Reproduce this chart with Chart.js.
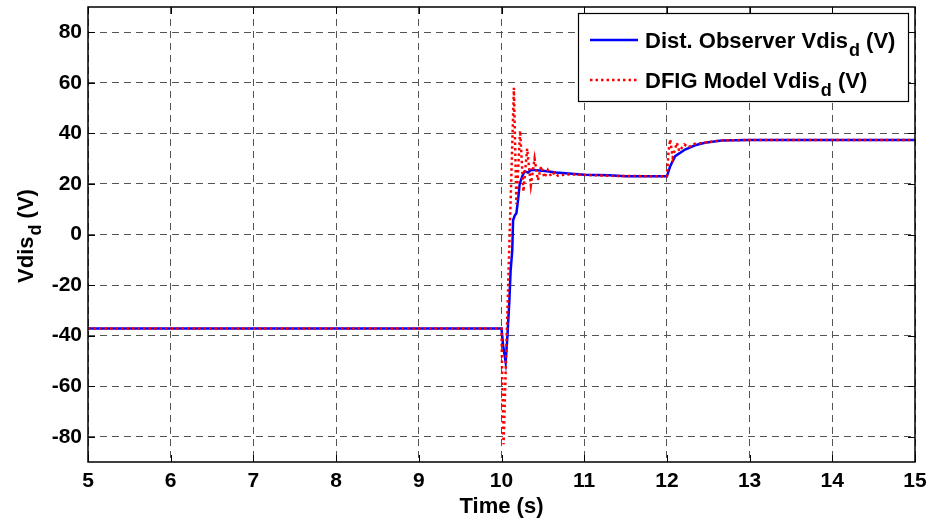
<!DOCTYPE html>
<html>
<head>
<meta charset="utf-8">
<script src="https://cdn.jsdelivr.net/npm/chart.js@4.4.0/dist/chart.umd.min.js"></script>
<style>
  html, body { margin: 0; padding: 0; background: #fff; }
  #wrap { width: 932px; height: 523px; position: relative; }
</style>
</head>
<body>
<div id="wrap"><canvas id="chart" width="932" height="523"></canvas></div>
<script>
// time axis (s) and values (V)
const xTicks = [5, 6, 7, 8, 9, 10, 11, 12, 13, 14, 15];
const yTicks = [-80, -60, -40, -20, 0, 20, 40, 60, 80];

const observerTime = [5, 10.0, 10.02, 10.05, 10.07, 10.095, 10.11, 10.13, 10.14, 10.16, 10.18, 10.2, 10.22, 10.25, 10.28, 10.32, 10.36, 10.5, 10.66, 11.0, 11.3, 11.5, 12.0, 12.04, 12.1, 12.22, 12.34, 12.46, 12.66, 13.0, 14.0, 15];
const observerVdis = [-37.2, -37.2, -44, -50.4, -41, -26.4, -14.4, -6.4, 5.6, 7.5, 8.4, 13.6, 20, 23, 25, 24.5, 25.6, 25.2, 24.5, 23.6, 23.4, 23, 23, 27, 31, 33.6, 35.3, 36.3, 37.2, 37.4, 37.4, 37.4];

const modelTime = [5, 10.0, 10.01, 10.025, 10.15, 10.18, 10.225, 10.265, 10.31, 10.355, 10.4, 10.44, 10.48, 10.52, 10.56, 10.6, 10.64, 10.68, 10.8, 11.0, 11.3, 12.0, 12.02, 12.04, 12.07, 12.12, 12.15, 12.21, 12.26, 12.33, 12.45, 12.65, 13.0, 15];
const modelVdis = [-37.2, -37.2, -60, -83, 58, 12, 41, 17, 34, 19.5, 30, 21.5, 27, 22.5, 25.5, 23, 24.5, 23.3, 23.8, 23.6, 23.2, 23, 33, 37.6, 30.5, 36.3, 33, 35.6, 34.5, 35.8, 36.3, 37.2, 37.4, 37.4];

const legendLabels = ['Dist. Observer Vdis', 'DFIG Model Vdis'];
const FONT = '"Liberation Sans", Arial, sans-serif';

function toPoints(xs, ys) {
  return xs.map((x, i) => ({ x: x, y: ys[i] }));
}

// text with a subscript "d" followed by " (V)"
function drawSubText(ctx, base, x, y, size) {
  ctx.font = 'bold ' + size + 'px ' + FONT;
  ctx.fillText(base, x, y);
  let w = ctx.measureText(base).width;
  ctx.font = 'bold ' + Math.round(size * 0.8) + 'px ' + FONT;
  ctx.fillText('d', x + w + 1, y + size * 0.38);
  w += ctx.measureText('d').width + 1;
  ctx.font = 'bold ' + size + 'px ' + FONT;
  ctx.fillText(' (V)', x + w, y);
  return w + ctx.measureText(' (V)').width;
}

function subTextWidth(ctx, base, size) {
  ctx.font = 'bold ' + size + 'px ' + FONT;
  let w = ctx.measureText(base).width + ctx.measureText(' (V)').width;
  ctx.font = 'bold ' + Math.round(size * 0.8) + 'px ' + FONT;
  return w + ctx.measureText('d').width + 1;
}

const framePlugin = {
  id: 'frame',
  afterDraw(chart) {
    const ctx = chart.ctx;
    const a = chart.chartArea;
    const xs = chart.scales.x, ys = chart.scales.y;
    ctx.save();
    ctx.strokeStyle = '#000';
    ctx.lineWidth = 1.5;
    ctx.strokeRect(a.left, a.top, a.right - a.left, a.bottom - a.top);
    // inner tick marks
    ctx.lineWidth = 1;
    ctx.beginPath();
    xTicks.forEach(v => {
      const px = Math.round(xs.getPixelForValue(v)) + 0.5;
      ctx.moveTo(px, a.bottom); ctx.lineTo(px, a.bottom - 7);
      ctx.moveTo(px, a.top); ctx.lineTo(px, a.top + 7);
    });
    yTicks.forEach(v => {
      const py = Math.round(ys.getPixelForValue(v)) + 0.5;
      ctx.moveTo(a.left, py); ctx.lineTo(a.left + 7, py);
      ctx.moveTo(a.right, py); ctx.lineTo(a.right - 7, py);
    });
    ctx.stroke();

    // legend box
    const lx = 578, ly = 13, lw = 330, lh = 88;
    ctx.fillStyle = '#fff';
    ctx.fillRect(lx, ly, lw, lh);
    ctx.strokeStyle = '#000';
    ctx.lineWidth = 1.2;
    ctx.strokeRect(lx + 0.5, ly + 0.5, lw, lh);
    ctx.lineWidth = 2.5;
    ctx.strokeStyle = '#0000ff';
    ctx.beginPath(); ctx.moveTo(590, 40); ctx.lineTo(638, 40); ctx.stroke();
    ctx.strokeStyle = '#ff0000';
    ctx.setLineDash([2.5, 3]);
    ctx.beginPath(); ctx.moveTo(590, 80); ctx.lineTo(638, 80); ctx.stroke();
    ctx.setLineDash([]);
    ctx.fillStyle = '#000';
    ctx.textBaseline = 'alphabetic';
    ctx.textAlign = 'left';
    drawSubText(ctx, legendLabels[0], 645, 48, 22);
    drawSubText(ctx, legendLabels[1], 645, 88, 22);

    // y axis title, rotated
    ctx.save();
    ctx.translate(33, 236);
    ctx.rotate(-Math.PI / 2);
    const tw = subTextWidth(ctx, 'Vdis', 22);
    drawSubText(ctx, 'Vdis', -tw / 2, 0, 22);
    ctx.restore();
    ctx.restore();
  }
};

const gridOpts = { color: '#555', drawTicks: false, lineWidth: 1 };

new Chart(document.getElementById('chart'), {
  type: 'line',
  data: {
    datasets: [{
      label: legendLabels[0],
      data: toPoints(observerTime, observerVdis),
      borderColor: '#0000ff',
      borderWidth: 2.5,
      pointRadius: 0,
      tension: 0,
      order: 2
    }, {
      label: legendLabels[1],
      data: toPoints(modelTime, modelVdis),
      borderColor: '#ff0000',
      borderWidth: 2.5,
      borderDash: [2.5, 3],
      pointRadius: 0,
      tension: 0,
      order: 1
    }]
  },
  options: {
    responsive: false,
    animation: false,
    layout: { padding: { top: 7, right: 17, left: 0, bottom: 0 } },
    plugins: { legend: { display: false }, tooltip: { enabled: false } },
    scales: {
      x: {
        type: 'linear',
        min: 5, max: 15,
        afterBuildTicks: s => { s.ticks = xTicks.map(v => ({ value: v })); },
        afterFit: s => { s.height = 61; s.paddingLeft = 0; s.paddingRight = 0; },
        grid: gridOpts,
        border: { display: false, dash: [7, 5] },
        ticks: { color: '#000', padding: 7, maxRotation: 0, font: { family: FONT, size: 21, weight: 'bold' } },
        title: { display: true, text: 'Time (s)', color: '#000', padding: { top: 0, bottom: 3 }, font: { family: FONT, size: 22, weight: 'bold' } }
      },
      y: {
        type: 'linear',
        min: -90, max: 90,
        afterBuildTicks: s => { s.ticks = yTicks.map(v => ({ value: v })); },
        afterFit: s => { s.width = 88; s.paddingTop = 0; s.paddingBottom = 0; },
        grid: gridOpts,
        border: { display: false, dash: [7, 5] },
        ticks: { color: '#000', padding: 6, font: { family: FONT, size: 21, weight: 'bold' } }
      }
    }
  },
  plugins: [framePlugin]
});
</script>
</body>
</html>
